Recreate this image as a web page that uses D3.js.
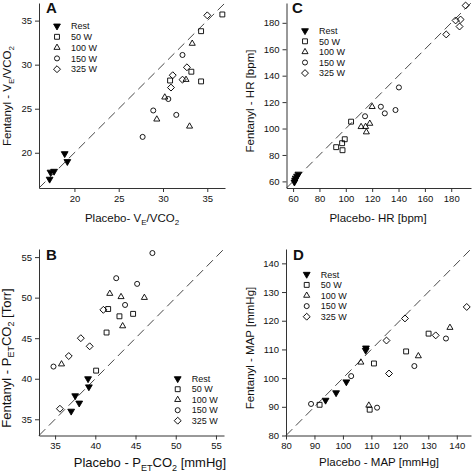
<!DOCTYPE html>
<html><head><meta charset="utf-8">
<script src="https://cdn.jsdelivr.net/npm/d3@7"></script>
<style>
body{margin:0;background:#fff}
svg{display:block}
text{font-family:"Liberation Sans",Arial,sans-serif;fill:#111}
</style>
</head><body><svg id="c" width="472" height="473"></svg>
<script>
const seriesNames = ["Rest","50 W","100 W","150 W","325 W"];

// Panel A: VE/VCO2
const aRest = [[17.2,17.0],[17.3,17.8],[17.7,17.9],[18.9,19.9],[19.2,19.0]];
const a50   = [[36.7,35.7],[34.3,33.8],[33.2,29.2],[30.8,28.2],[34.3,28.1]];
const a100  = [[33.3,32.4],[32.6,28.3],[30.2,26.3],[29.3,23.8],[33.0,23.0]];
const a150  = [[32.2,31.1],[30.6,26.1],[28.9,24.8],[31.5,24.3],[27.7,21.8]];
const a325  = [[35.0,35.6],[32.7,29.7],[31.1,28.8],[32.2,28.3],[30.9,27.4]];
const aTicks = [20,25,30,35];

// Panel B: PETCO2
const bRest = [[39.1,40.0],[37.5,37.9],[39.2,39.0],[38.0,37.0],[37.0,36.0]];
const b50   = [[41.6,48.6],[43.0,47.7],[44.7,48.0],[41.4,45.7],[40.1,41.0]];
const b100  = [[41.8,50.5],[43.2,50.1],[46.1,50.0],[43.4,46.5],[35.8,41.8]];
const b150  = [[47.1,55.5],[42.6,52.4],[45.2,51.7],[43.7,49.1],[34.8,41.5]];
const b325  = [[41.0,48.5],[38.2,45.0],[39.3,44.0],[36.7,42.8],[35.6,36.3]];
const bTicks = [35,40,45,50,55];

// Panel C: HR
const cRest = [[61.0,59.5],[61.5,61.0],[62.0,62.5],[63.0,64.0],[64.0,65.5]];
const c50   = [[104.0,105.2],[99.2,91.9],[97.2,88.9],[92.7,85.9],[97.5,83.6]];
const c100  = [[120.0,116.5],[111.6,101.3],[115.0,101.4],[118.2,103.8],[115.6,97.3]];
const c150  = [[114.6,109.3],[126.6,116.5],[129.6,111.5],[137.7,114.0],[140.3,131.1]];
const c325  = [[190.9,193.1],[183.3,181.8],[187.1,182.5],[186.3,177.2],[176.2,171.2]];
const cTicks = [60,80,100,120,140,160,180];

// Panel D: MAP
const dRest = [[108.1,110.5],[108.0,109.7],[101.2,98.7],[97.6,94.9],[93.9,92.3]];
const d50   = [[110.9,105.1],[122.2,109.3],[130.1,115.5],[91.8,90.7],[109.4,89.0]];
const d100  = [[106.3,105.5],[126.5,107.7],[137.6,117.6],[109.1,90.5]];
const d150  = [[88.8,91.0],[102.9,100.7],[112.0,89.7],[125.1,104.2],[136.2,113.8]];
const d325  = [[121.8,120.8],[115.3,113.1],[116.2,101.6],[132.6,114.9],[143.5,124.8]];
const dTicks = [80,90,100,110,120,130,140];

const svg = d3.select("#c");

const panels = [
  {letter:"A", series:[aRest,a50,a100,a150,a325], domain:[16,37], ticks:aTicks,
   x0:39, x1:225, y0:188, y1:3, tf:11.5,
   xTitle:[["Placebo- V"],["E",1],["/VCO"],["2",1]],
   yTitle:[["Fentanyl - V"],["E",1],["/VCO"],["2",1]],
   xt:[132,222], yt:[11,96], lx:57, ly:26, lg:10.8, letterPos:[46,13]},
  {letter:"C", series:[cRest,c50,c100,c150,c325], domain:[55,195], ticks:cTicks,
   x0:286.5, x1:471, y0:188, y1:3, tf:11.5,
   xTitle:[["Placebo- HR [bpm]"]],
   yTitle:[["Fentanyl - HR [bpm]"]],
   xt:[378,222], yt:[254,101], lx:305, ly:30.7, lg:10.6, letterPos:[292,13]},
  {letter:"B", series:[bRest,b50,b100,b150,b325], domain:[33,56], ticks:bTicks,
   x0:39, x1:224, y0:435.5, y1:249, tf:13,
   xTitle:[["Placebo - P"],["ET",1],["CO"],["2",1],[" [mmHg]"]],
   yTitle:[["Fentanyl - P"],["ET",1],["CO"],["2",1],[" [Torr]"]],
   xt:[150,467], yt:[10.5,358], lx:177.7, ly:378.7, lg:10.5, letterPos:[46,260]},
  {letter:"D", series:[dRest,d50,d100,d150,d325], domain:[80,145], ticks:dTicks,
   x0:286, x1:471, y0:435.5, y1:249, tf:11.5,
   xTitle:[["Placebo - MAP [mmHg]"]],
   yTitle:[["Fentanyl - MAP [mmHg]"]],
   xt:[379,466], yt:[254,348], lx:306.7, ly:274.3, lg:10.6, letterPos:[293,260]}
];

const symGen = [
  d3.symbol().type(d3.symbolTriangle).size(20),
  d3.symbol().type(d3.symbolSquare).size(24),
  d3.symbol().type(d3.symbolTriangle).size(16),
  d3.symbol().type(d3.symbolCircle).size(20),
  d3.symbol().type(d3.symbolSquare).size(24)
];
function drawSym(g, i, x, y){
  const rot = i===0 ? 180 : (i===4 ? 45 : 0);
  g.append("path").attr("d", symGen[i]())
    .attr("transform", `translate(${x},${y}) rotate(${rot})`)
    .attr("fill", i===0 ? "#000" : "none")
    .attr("stroke", "#000").attr("stroke-width", 0.9);
}
function addText(sel, parts, fs){
  const sub = Math.round(fs * 0.72);
  const shift = fs * 0.28;
  parts.forEach((p, k) => {
    const t = sel.append("tspan").text(p[0]);
    if (p[1]) t.attr("font-size", sub + "px").attr("dy", shift);
    else if (k>0 && parts[k-1][1]) t.attr("dy", -shift);
  });
}

panels.forEach(p => {
  const x = d3.scaleLinear().domain(p.domain).range([p.x0, p.x1]);
  const y = d3.scaleLinear().domain(p.domain).range([p.y0, p.y1]);
  const g = svg.append("g");

  const ax = g.append("g").attr("transform", `translate(0,${p.y0})`)
    .call(d3.axisBottom(x).tickValues(p.ticks).tickSize(4).tickSizeOuter(0).tickPadding(3));
  const ay = g.append("g").attr("transform", `translate(${p.x0},0)`)
    .call(d3.axisLeft(y).tickValues(p.ticks).tickSize(4).tickSizeOuter(0).tickPadding(3));
  [ax, ay].forEach(a => {
    a.selectAll("path,line").attr("stroke", "#333");
    a.selectAll("text").attr("font-size", "9.5px").attr("fill", "#222")
      .style("font-family", '"Liberation Sans",Arial,sans-serif');
  });

  // identity line
  g.append("line")
    .attr("x1", x(p.domain[0])).attr("y1", y(p.domain[0]))
    .attr("x2", x(p.domain[1])).attr("y2", y(p.domain[1]))
    .attr("stroke", "#333").attr("stroke-width", 0.9).attr("stroke-dasharray", "9,5");

  // points
  p.series.forEach((s, i) => {
    s.forEach(d => drawSym(g, i, x(d[0]), y(d[1])));
  });

  // legend
  seriesNames.forEach((n, i) => {
    const yy = p.ly + i * p.lg;
    drawSym(g, i, p.lx, yy);
    g.append("text").attr("x", p.lx + 14).attr("y", yy + 3.2)
      .attr("font-size", "9px").text(n);
  });

  // panel letter
  g.append("text").attr("x", p.letterPos[0]).attr("y", p.letterPos[1])
    .attr("font-size", "15px").attr("font-weight", "bold").text(p.letter);

  // axis titles
  const xt = g.append("text").attr("x", p.xt[0]).attr("y", p.xt[1])
    .attr("text-anchor", "middle").attr("font-size", p.tf + "px");
  addText(xt, p.xTitle, p.tf);
  const yt = g.append("text")
    .attr("transform", `translate(${p.yt[0]},${p.yt[1]}) rotate(-90)`)
    .attr("text-anchor", "middle").attr("font-size", p.tf + "px");
  addText(yt, p.yTitle, p.tf);
});
</script>
</body></html>
